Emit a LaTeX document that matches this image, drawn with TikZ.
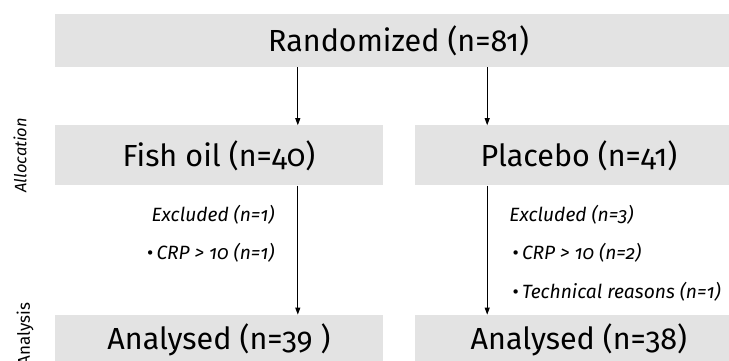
\documentclass[tikz,border=0pt]{standalone}
\usepackage{fontspec}
\setmainfont{Fira Sans}[Numbers=OldStyle]
\usetikzlibrary{arrows.meta}
\usetikzlibrary{calc}
\usetikzlibrary{positioning}
\definecolor{boxgray}{RGB}{227, 227, 227}
\tikzset{
    arrow/.style={-{Triangle[length=7pt,width=5pt]}, line width=0.9pt},
    box/.style = {
      rectangle,
      fill=boxgray,
      inner sep=0pt,
      font=\fontsize{30.5}{36}\selectfont
    },
    note/.style = {
      inner sep=0pt,
      font=\fontsize{19.2}{38.5}\selectfont\itshape
    },
    sidelabel/.style = {
      inner sep=0pt,
      rotate=90,
      anchor=south,
      font=\fontsize{17}{19}\selectfont
    },
}
\begin{document}
\begin{tikzpicture}
      \useasboundingbox (0,0) rectangle (729pt,-360pt);

      \node [box, minimum width=687pt, minimum height=53pt] (randomized) at (398.5pt,-40.5pt) {Randomized (n=81)};

      \node [
        box,
        minimum width=328pt, minimum height=60pt,
        below right=58pt and 0pt of randomized.south west,
      ] (fishoil) {Fish oil (n=40)};

      \node [
        box,
        minimum width=327pt, minimum height=60pt,
        right=32pt of fishoil,
      ] (placebo) {Placebo (n=41)};

      \node [box, minimum width=328pt, minimum height=50pt, below=129pt of fishoil] (fishanalysed) {Analysed (n=39 )};
      \node [box, minimum width=327pt, minimum height=50pt, below=129pt of placebo] (placeboanalysed) {Analysed (n=38)};

      \coordinate [right=243pt of fishoil.north west] (fishin);
      \coordinate [right=72pt of placebo.north west] (placeboin);
      \coordinate (fishout) at (fishoil.south -| fishin);
      \coordinate (placeboout) at (placebo.south -| placeboin);

      \draw[arrow] (randomized.south -| fishin) -- (fishin);
      \draw[arrow] (randomized.south -| placeboin) -- (placeboin);
      \draw[arrow] (fishout) -- (fishanalysed.north -| fishin);
      \draw[arrow] (placeboout) -- (placeboanalysed.north -| placeboin);

      \node [note, align=right, below left=19pt and 23pt of fishout] (fishexcluded)
        {Excluded (n=1)\\{\upshape•}\,CRP > 10 (n=1)};
      \node [note, align=left, below right=19pt and 22pt of placeboout] (placeboexcluded)
        {Excluded (n=3)\\\,{\upshape•}\,CRP > 10 (n=2)\\\,{\upshape•}\,Technical reasons (n=1)};

      % side labels
      \node [sidelabel, font=\fontsize{16.5}{19}\selectfont\itshape] (allocation) at ($(fishoil.west)+(-28pt,0pt)$) {Allocation};
      \node [sidelabel] (analysis) at ($(fishanalysed.west)+(-21pt,5.5pt)$) {Analysis};
\end{tikzpicture}
\end{document}
